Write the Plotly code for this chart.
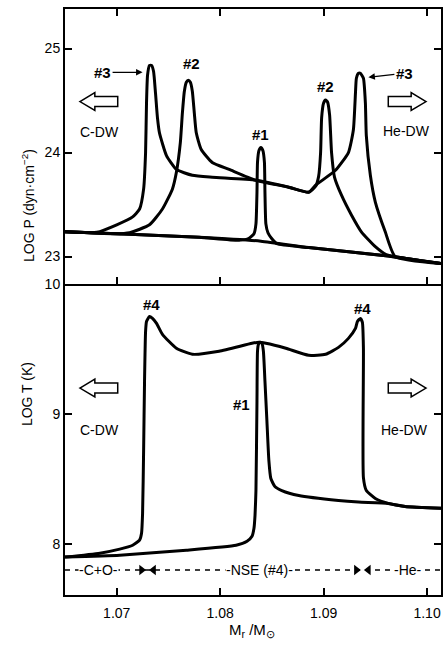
import plotly.graph_objects as go

# ---------------- data ----------------
# Upper panel: log P vs Mr/Msun
base_m = [1.0650, 1.07125, 1.07798, 1.08394, 1.08856, 1.09625, 1.10135]
base_p = [23.238, 23.214, 23.186, 23.148, 23.086, 23.005, 22.933]

p1_m = [1.0650, 1.07125, 1.07798, 1.08183, 1.08279, 1.08327, 1.08346, 1.08356, 1.08361,
        1.08375, 1.08394, 1.08413, 1.08428, 1.08433, 1.08442, 1.08462, 1.08500, 1.08548,
        1.08856, 1.09625, 1.10135]
p1_p = [23.238, 23.214, 23.186, 23.157, 23.176, 23.219, 23.314, 23.619, 23.905,
        24.019, 24.048, 24.019, 23.905, 23.619, 23.314, 23.229, 23.171, 23.124,
        23.086, 23.005, 22.933]

p2_m = [1.0650, 1.06981, 1.07125, 1.07317, 1.07442, 1.07538, 1.07577, 1.07615, 1.07635,
        1.07654, 1.07673, 1.07692, 1.07712, 1.07731, 1.07750, 1.07769, 1.07817, 1.07923,
        1.08087, 1.08346, 1.08663, 1.08856, 1.08923, 1.08952, 1.08971, 1.08981, 1.09000,
        1.09019, 1.09038, 1.09058, 1.09077, 1.09106, 1.09173, 1.09269, 1.09365, 1.09500,
        1.09606, 1.10135]
p2_p = [23.238, 23.219, 23.229, 23.305, 23.457, 23.648, 23.810, 24.095, 24.381,
        24.590, 24.676, 24.695, 24.676, 24.590, 24.381, 24.190, 24.029, 23.905,
        23.838, 23.733, 23.667, 23.619, 23.676, 23.771, 24.000, 24.333, 24.476,
        24.505, 24.486, 24.362, 24.000, 23.762, 23.590, 23.400, 23.238, 23.095,
        23.019, 22.933]

p3_m = [1.0650, 1.06808, 1.0700, 1.07154, 1.07221, 1.07260, 1.07279, 1.07288, 1.07298,
        1.07317, 1.07337, 1.07356, 1.07375, 1.07394, 1.07413, 1.07481, 1.07577, 1.07731,
        1.07923, 1.08346, 1.08663, 1.08856, 1.08923, 1.09115, 1.09240, 1.09288, 1.09308,
        1.09317, 1.09337, 1.09356, 1.09385, 1.09404, 1.09413, 1.09452, 1.09500, 1.09596,
        1.09692, 1.10135]
p3_p = [23.238, 23.233, 23.305, 23.381, 23.457, 23.648, 24.000, 24.476, 24.743,
        24.838, 24.838, 24.781, 24.571, 24.333, 24.190, 23.971, 23.838, 23.781,
        23.762, 23.733, 23.667, 23.619, 23.686, 23.829, 24.000, 24.219, 24.571,
        24.714, 24.762, 24.762, 24.714, 24.476, 24.162, 23.781, 23.524, 23.238,
        23.000, 22.933]

# Lower panel: log T vs Mr/Msun
t4_m = [1.0650, 1.06837, 1.07029, 1.07154, 1.07221, 1.07240, 1.07250, 1.07260, 1.07269,
        1.07279, 1.07288, 1.07317, 1.07346, 1.07385, 1.07442, 1.07577, 1.07731, 1.07990,
        1.08308, 1.08375, 1.08442, 1.08635, 1.08856, 1.09019, 1.09144, 1.09240, 1.09308,
        1.09327, 1.09356, 1.09375, 1.09385, 1.09385, 1.09413, 1.09500, 1.09625, 1.09788,
        1.10135]
t4_t = [7.901, 7.931, 7.962, 7.992, 8.031, 8.084, 8.237, 8.718, 9.252,
        9.634, 9.710, 9.748, 9.733, 9.695, 9.611, 9.504, 9.458, 9.481,
        9.542, 9.550, 9.542, 9.504, 9.450, 9.458, 9.511, 9.580, 9.656,
        9.710, 9.733, 9.702, 9.504, 8.511, 8.412, 8.351, 8.313, 8.290,
        8.275]

t1_m = [1.0650, 1.07029, 1.07673, 1.08154, 1.08260, 1.08308, 1.08327, 1.08337, 1.08346,
        1.08356, 1.08361, 1.08370, 1.08385, 1.08404, 1.08418, 1.08433, 1.08452, 1.08471,
        1.08490, 1.08529, 1.08596, 1.08760, 1.09144, 1.09337, 1.09625, 1.09788, 1.10135]
t1_t = [7.901, 7.916, 7.954, 7.992, 8.023, 8.061, 8.122, 8.221, 8.412,
        9.099, 9.481, 9.534, 9.550, 9.542, 9.481, 9.252, 8.947, 8.641,
        8.504, 8.443, 8.412, 8.374, 8.336, 8.324, 8.313, 8.290, 8.275]

x_ticks = [1.07, 1.08, 1.09, 1.10]
x_ticktext = ["1.07", "1.08", "1.09", "1.10"]
p_ticks = [23, 24, 25]
t_ticks = [8, 9, 10]

# composition row (lower panel)
zone_labels = ["C+O", "NSE (#4)", "He"]
zone_m = [1.06827, 1.08385, 1.09817]
zone_t = 7.802
bound_right_m = [1.07240, 1.09317]   # ► heads
bound_left_m = [1.07356, 1.09433]    # ◄ heads

FONT = "Liberation Sans, Arial, Helvetica, sans-serif"
LW = 3

fig = go.Figure()
line = dict(color="black", width=LW, shape="spline", smoothing=0.5)
for xm, yv in [(base_m, base_p), (p1_m, p1_p), (p2_m, p2_p), (p3_m, p3_p)]:
    fig.add_trace(go.Scatter(x=xm, y=yv, mode="lines", line=line, xaxis="x2", yaxis="y2",
                             showlegend=False, hoverinfo="skip"))
for xm, yv in [(t1_m, t1_t), (t4_m, t4_t)]:
    fig.add_trace(go.Scatter(x=xm, y=yv, mode="lines", line=line, xaxis="x", yaxis="y",
                             showlegend=False, hoverinfo="skip"))

# boundary arrow heads
fig.add_trace(go.Scatter(x=bound_right_m, y=[zone_t] * 2, mode="markers",
                         marker=dict(symbol="triangle-right", size=9, color="black"),
                         xaxis="x", yaxis="y", showlegend=False, hoverinfo="skip"))
fig.add_trace(go.Scatter(x=bound_left_m, y=[zone_t] * 2, mode="markers",
                         marker=dict(symbol="triangle-left", size=9, color="black"),
                         xaxis="x", yaxis="y", showlegend=False, hoverinfo="skip"))

# ---------------- layout ----------------
L, R, T, B = 65, 1, 6, 56
W, H = 444, 651
PH = H - T - B
split = (595 - 282) / PH

axis_common = dict(showline=True, linewidth=2, linecolor="black", ticks="inside",
                   ticklen=7, tickwidth=1.5, tickcolor="black", showgrid=False,
                   zeroline=False, tickfont=dict(family=FONT, size=14, color="black"))

fig.update_layout(
    width=W, height=H, margin=dict(l=L, r=R, t=T, b=B),
    paper_bgcolor="white", plot_bgcolor="white",
    xaxis=dict(domain=[0, 1], range=[1.0650, 1.10135], anchor="y", tickvals=x_ticks,
               ticktext=x_ticktext, mirror=False, ticklabelstandoff=4, **axis_common),
    xaxis2=dict(domain=[0, 1], range=[1.0650, 1.10135], anchor="y2", tickvals=x_ticks,
                showticklabels=False, mirror="ticks", **axis_common),
    yaxis=dict(domain=[0, split], range=[7.61, 10.0005], anchor="x", tickvals=t_ticks,
               mirror="ticks", **axis_common),
    yaxis2=dict(domain=[split, 1], range=[22.74, 25.38], anchor="x2", tickvals=p_ticks,
                mirror="ticks", **axis_common),
    showlegend=False,
)

def px(x):
    return (x - L) / (W - L - R)

def py(y):
    return (H - B - y) / PH

ann = []
lab = dict(family=FONT, size=14, color="black")
hashf = dict(family=FONT, size=15, color="black")

# axis titles
ann.append(dict(text="LOG P (dyn·cm<sup>−2</sup>)", x=px(17), y=py(145), xref="paper",
                yref="paper", textangle=-90, showarrow=False, font=lab))
ann.append(dict(text="LOG T (K)", x=px(17), y=py(427), xref="paper", yref="paper",
                textangle=-90, showarrow=False, font=lab))
ann.append(dict(text="M<sub>r</sub> /M<sub>⊙</sub>", x=px(253), y=py(642), xref="paper",
                yref="paper", showarrow=False, font=dict(family=FONT, size=15, color="black")))

# upper panel labels
ann.append(dict(text="<b>#3</b>", x=1.0725, y=24.771, xref="x2", yref="y2", ax=-40, ay=0,
                showarrow=True, arrowhead=2, arrowsize=1, arrowwidth=1.3, arrowcolor="black",
                font=hashf))
ann.append(dict(text="<b>#3</b>", x=1.09433, y=24.724, xref="x2", yref="y2", ax=36, ay=-4,
                showarrow=True, arrowhead=2, arrowsize=1, arrowwidth=1.3, arrowcolor="black",
                font=hashf))
for t, xm, yv in [("#2", 1.07721, 24.857), ("#1", 1.08394, 24.171), ("#2", 1.09019, 24.638)]:
    ann.append(dict(text="<b>" + t + "</b>", x=xm, y=yv, xref="x2", yref="y2",
                    showarrow=False, font=hashf))
ann.append(dict(text="C-DW", x=1.06837, y=24.2, xref="x2", yref="y2", showarrow=False, font=lab))
ann.append(dict(text="He-DW", x=1.0980, y=24.21, xref="x2", yref="y2", showarrow=False, font=lab))

# lower panel labels
for t, xm, yv in [("#4", 1.07337, 9.840), ("#4", 1.09375, 9.809), ("#1", 1.08202, 9.069)]:
    ann.append(dict(text="<b>" + t + "</b>", x=xm, y=yv, xref="x", yref="y",
                    showarrow=False, font=hashf))
ann.append(dict(text="C-DW", x=1.06837, y=8.878, xref="x", yref="y", showarrow=False, font=lab))
ann.append(dict(text="He-DW", x=1.09779, y=8.878, xref="x", yref="y", showarrow=False, font=lab))
for t, xm in zip(zone_labels, zone_m):
    ann.append(dict(text="-" + t + "-", x=xm, y=zone_t, xref="x", yref="y", showarrow=False,
                    bgcolor="white", borderpad=0, font=lab))
fig.update_layout(annotations=ann)

# shapes: dashed composition line and open arrows
shapes = [dict(type="line", xref="paper", yref="y", x0=0, x1=1, y0=zone_t, y1=zone_t,
               line=dict(color="black", width=1.5, dash="5px,5px"), layer="below")]

def open_arrow(xt, yc, direction):
    # tip at xt, total length 38px, head 15px
    d = -1 if direction == "left" else 1
    pts = [(xt, yc), (xt - d * 15, yc - 9), (xt - d * 15, yc - 5), (xt - d * 38, yc - 5),
           (xt - d * 38, yc + 5), (xt - d * 15, yc + 5), (xt - d * 15, yc + 9)]
    path = "M " + " L ".join(f"{px(a):.5f},{py(b):.5f}" for a, b in pts) + " Z"
    return dict(type="path", xref="paper", yref="paper", path=path,
                line=dict(color="black", width=1.5), fillcolor="white")

shapes += [open_arrow(80, 99, "left"), open_arrow(428, 99, "right"),
           open_arrow(80, 387, "left"), open_arrow(428, 387, "right")]
fig.update_layout(shapes=shapes)

fig.write_html("out.html")
